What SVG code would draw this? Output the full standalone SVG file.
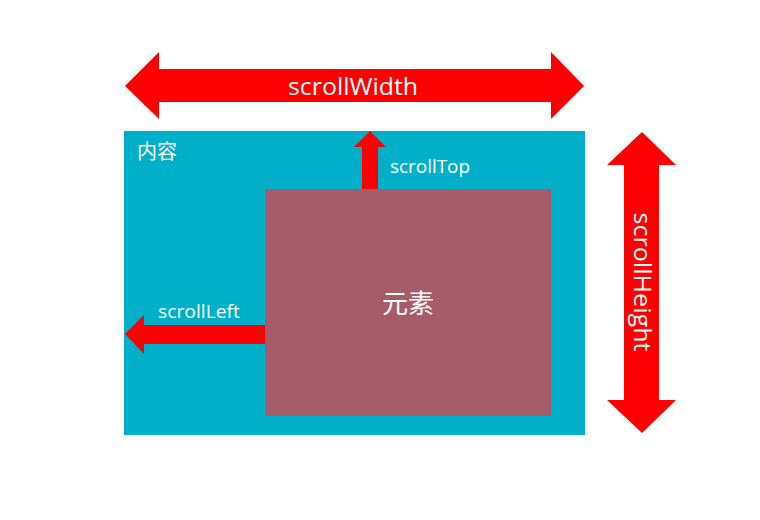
<svg xmlns="http://www.w3.org/2000/svg" width="760" height="520" viewBox="0 0 760 520">
<style>
.arrow{fill:#FF0000}
.t{font-family:"Open Sans","Liberation Sans","Noto Sans CJK SC",sans-serif;fill:#FFFFFF}
</style>
<rect width="760" height="520" fill="#FFFFFF"/>
<g id="content">
<rect x="124" y="131" width="461" height="304" fill="#00B0CA"/>
<text class="t" x="137" y="159" font-size="20">内容</text>
</g>
<g id="element">
<rect x="265" y="189" width="286" height="227" fill="#A65B69"/>
<text class="t" x="408" y="313" font-size="26" text-anchor="middle">元素</text>
</g>
<g id="connectors">
<g id="scrollWidth">
<polygon class="arrow" points="125,86 159,52 159,69 551,69 551,52 584,86 551,119 551,102 159,102 159,119"/>
<text class="t" x="353" y="95" font-size="23" text-anchor="middle" textLength="130" lengthAdjust="spacingAndGlyphs">scrollWidth</text>
</g>
<g id="scrollHeight">
<polygon class="arrow" points="642,132 676,165 659,165 659,400 676,400 642,433 607,400 624,400 624,165 607,165"/>
<text class="t" x="0" y="0" font-size="23" text-anchor="middle" textLength="139" lengthAdjust="spacingAndGlyphs" transform="translate(634,282) rotate(90)">scrollHeight</text>
</g>
<g id="scrollTop">
<polygon class="arrow" points="370,131 386,147 378,147 378,189 362,189 362,147 354,147"/>
<text class="t" x="390" y="173" font-size="18" textLength="80" lengthAdjust="spacingAndGlyphs">scrollTop</text>
</g>
<g id="scrollLeft">
<polygon class="arrow" points="125,334 144,315 144,325 265,325 265,344 144,344 144,354"/>
<text class="t" x="158" y="318" font-size="18" textLength="82" lengthAdjust="spacingAndGlyphs">scrollLeft</text>
</g>
</g>
</svg>
